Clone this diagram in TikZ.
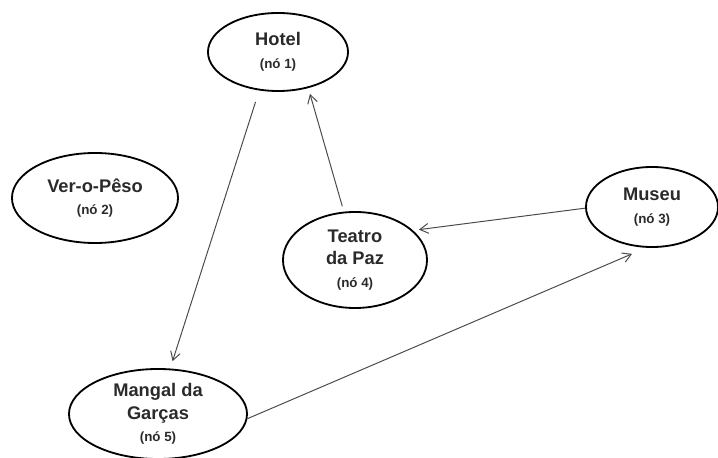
\documentclass[tikz,border=0pt]{standalone}
\usepackage{fontspec}
\setmainfont{Liberation Sans}
\usetikzlibrary{shapes.geometric,arrows.meta}
\definecolor{inkgray}{HTML}{2A2A2A}
\newcommand{\nodenum}[1]{{\fontsize{9.5}{11}\selectfont (nó #1)}}

\begin{document}
\begin{tikzpicture}[x=0.025cm,y=-0.025cm,
    place/.style={ellipse,draw=black,line width=1.3pt,inner sep=0pt,align=center,
      text=inkgray,font=\fontsize{13}{16}\selectfont\bfseries},
    route/.style={draw=inkgray!85,line width=0.7pt,-{Straight Barb[length=6pt,width=7pt]}}]
    \useasboundingbox (0,0) rectangle (718,458);
    % locais
    \node[place,minimum width=3.5cm,minimum height=1.95cm] (hotel) at (278,52) {Hotel\\\nodenum{1}};
    \node[place,minimum width=4.15cm,minimum height=2.25cm] (vero) at (95,198) {Ver-o-Pêso\\\nodenum{2}};
    \node[place,minimum width=3.3cm,minimum height=2cm] (museu) at (652,207) {Museu\\\nodenum{3}};
    \node[place,minimum width=3.6cm,minimum height=2.4cm] (teatro) at (355,260) {Teatro\\da Paz\\\nodenum{4}};
    \node[place,minimum width=4.45cm,minimum height=2.25cm] (mangal) at (158,414) {Mangal da\\Garças\\\nodenum{5}};
    % caminhos
    \draw[route,shorten <=8.5pt,shorten >=5.5pt] (hotel.244) -- (mangal.75.5);
    \draw[route,shorten <=4pt,shorten >=4.3pt] (teatro.103.6) -- (hotel.310.8);
    \draw[route,shorten >=4.2pt] (museu.181) -- (teatro.27.1);
    \draw[route,shorten >=11pt] (mangal.357) -- (museu.262);
\end{tikzpicture}
\end{document}
